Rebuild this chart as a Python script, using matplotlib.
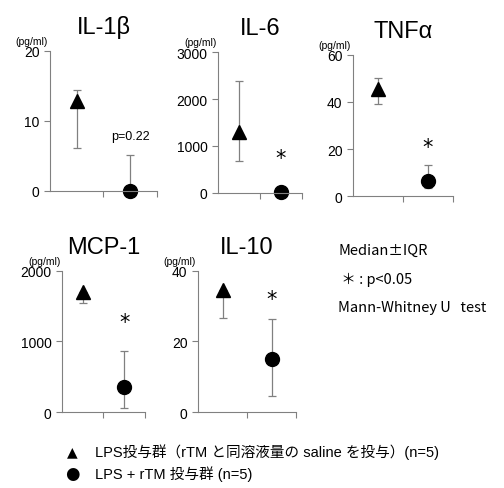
import matplotlib.pyplot as plt

plt.rcParams['font.family'] = ['Noto Sans CJK JP', 'DejaVu Sans']

titles = ['IL-1β', 'IL-6', 'TNFα', 'MCP-1', 'IL-10']
ymax = [20, 3000, 60, 2000, 40]
yticks = [[0, 10, 20], [0, 1000, 2000, 3000], [0, 20, 40, 60], [0, 1000, 2000], [0, 20, 40]]

# median, lower IQR, upper IQR
lps_med = [12.8, 1300, 45.5, 1700, 34.5]
lps_lo = [6.2, 680, 39, 1550, 26.7]
lps_hi = [14.4, 2380, 50.3, 1700, 34.5]
rtm_med = [0, 20, 6.5, 360, 15]
rtm_lo = [0, 20, 3.5, 50, 4.6]
rtm_hi = [5.2, 20, 13, 870, 26.5]
star_y = [None, 750, 21, 1280, 32]

# left, bottom, width, height in figure fraction
boxes = [
    [0.0992, 0.6074, 0.2123, 0.2863],
    [0.4325, 0.6033, 0.1667, 0.2883],
    [0.7004, 0.5971, 0.1984, 0.2884],
    [0.1230, 0.1554, 0.1647, 0.2884],
    [0.3929, 0.1554, 0.1944, 0.2884],
]

fig = plt.figure(figsize=(5.04, 4.89), dpi=100)
grey = '#808080'
latin = ['Liberation Sans', 'DejaVu Sans']

for i in range(5):
    ax = fig.add_axes(boxes[i])
    ax.set_xlim(0, 2)
    ax.set_ylim(0, ymax[i])
    for s in ['top', 'right']:
        ax.spines[s].set_visible(False)
    for s in ['left', 'bottom']:
        ax.spines[s].set_color(grey)
        ax.spines[s].set_linewidth(0.8)
    ax.set_xticks([1, 2])
    ax.set_xticklabels([])
    ax.set_yticks(yticks[i])
    ax.tick_params(colors=grey, labelcolor='black', labelsize=10, length=4, width=0.8)
    for lab in ax.get_yticklabels():
        lab.set_family(latin)

    ax.errorbar([0.5], [lps_med[i]],
                yerr=[[lps_med[i] - lps_lo[i]], [lps_hi[i] - lps_med[i]]],
                fmt='none', ecolor=grey, elinewidth=0.9, capsize=3, capthick=0.9)
    ax.errorbar([1.5], [rtm_med[i]],
                yerr=[[rtm_med[i] - rtm_lo[i]], [rtm_hi[i] - rtm_med[i]]],
                fmt='none', ecolor=grey, elinewidth=0.9, capsize=3, capthick=0.9)
    ax.plot([0.5], [lps_med[i]], marker='^', color='black', ms=9.5, clip_on=False)
    ax.plot([1.5], [rtm_med[i]], marker='o', color='black', ms=10, clip_on=False)

    if star_y[i] is not None:
        ax.text(1.5, star_y[i], '*', ha='center', va='center', fontsize=15,
                family='DejaVu Sans')
    else:
        ax.text(1.5, 7.9, 'p=0.22', ha='center', va='center', fontsize=9,
                family=latin)

    ax.text(-0.02, 1.035, '(pg/ml)', transform=ax.transAxes, ha='right',
            va='bottom', fontsize=7.5, family=latin)
    ax.set_title(titles[i], fontsize=17, family=latin, pad=13)

fig.text(338 / 504, 1 - 251 / 489, 'Median±IQR', fontsize=10.5, va='center')
fig.text(338 / 504, 1 - 280 / 489, ' ＊ : p<0.05', fontsize=10.5, va='center')
fig.text(338 / 504, 1 - 308 / 489, 'Mann-Whitney U   test', fontsize=10.5, va='center')

fig.text(72 / 504, 1 - 452 / 489, '▲', fontsize=10, ha='center', va='center',
         family='DejaVu Sans')
fig.text(72 / 504, 1 - 474 / 489, '●', fontsize=12, ha='center', va='center',
         family='DejaVu Sans')
legend_font = ['Liberation Sans', 'Noto Sans CJK JP']
fig.text(95 / 504, 1 - 452 / 489, 'LPS投与群（rTM と同溶液量の saline を投与）(n=5)',
         fontsize=10.5, va='center', family=legend_font)
fig.text(95 / 504, 1 - 474 / 489, 'LPS + rTM 投与群 (n=5)', fontsize=10.5,
         va='center', family=legend_font)

fig.savefig('out.png', dpi=100)
